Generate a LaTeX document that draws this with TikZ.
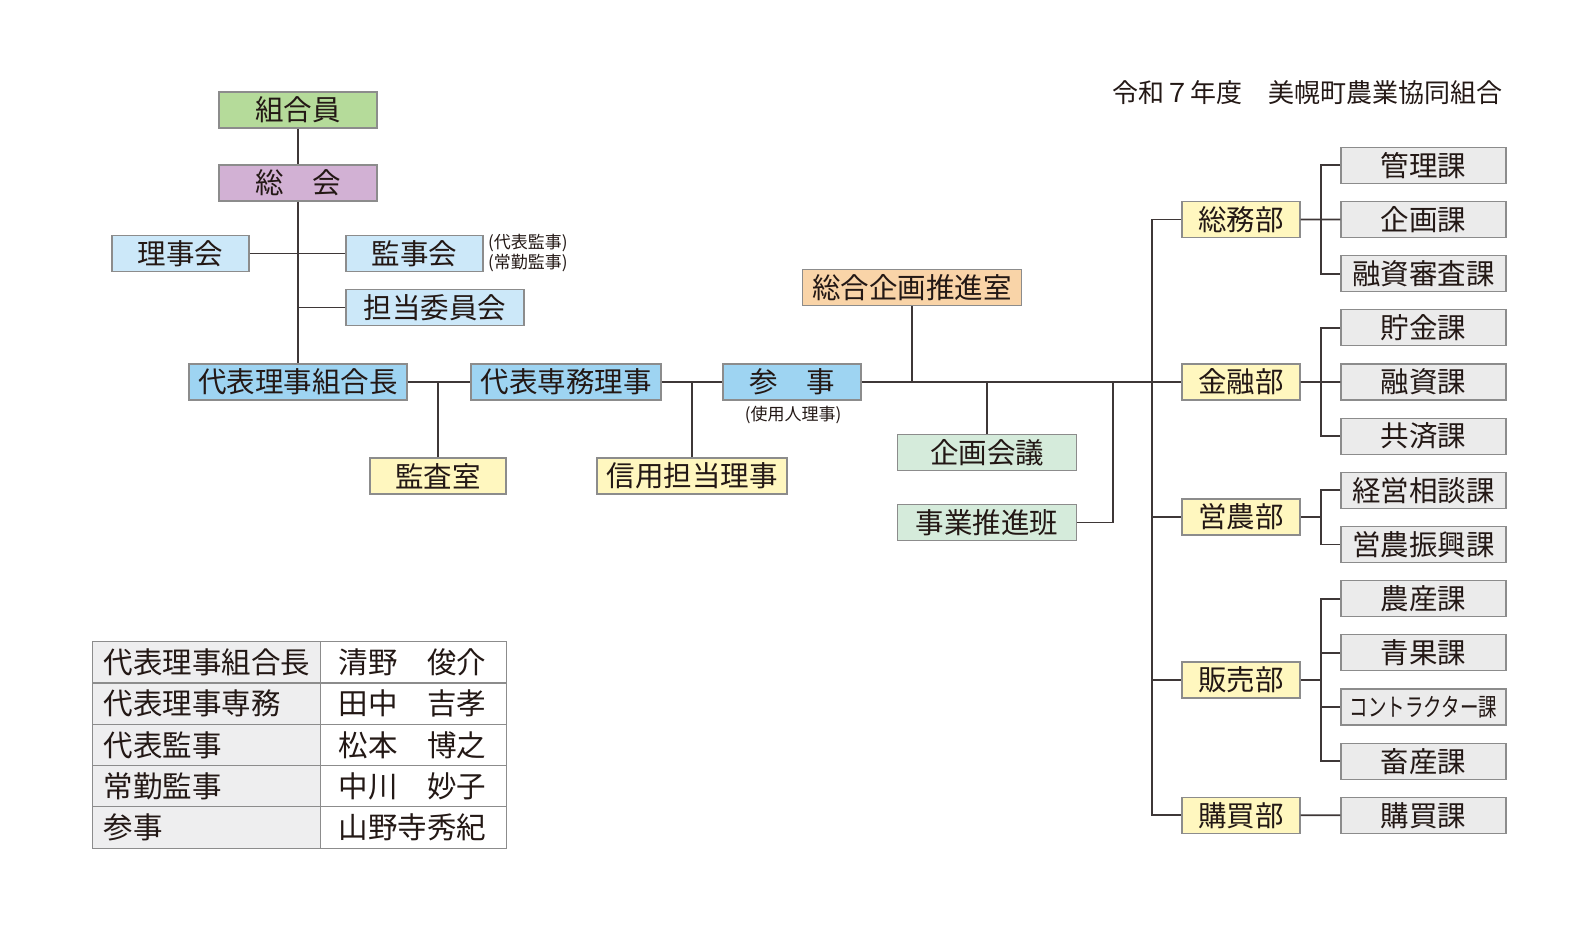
\documentclass[tikz,border=0pt]{standalone}
\usepackage{fontspec}
\setmainfont{Noto Sans CJK JP}
\usetikzlibrary{calc}

\definecolor{linecol}{RGB}{62,55,55}
\definecolor{edgecol}{RGB}{140,140,140}
\definecolor{txtcol}{RGB}{35,24,21}
\definecolor{memgreen}{RGB}{181,219,154}
\definecolor{genpurple}{RGB}{210,177,212}
\definecolor{execblue}{RGB}{158,212,242}
\definecolor{boardblue}{RGB}{204,232,249}
\definecolor{peach}{RGB}{249,212,168}
\definecolor{deptyellow}{RGB}{255,247,191}
\definecolor{mintgreen}{RGB}{213,235,219}
\definecolor{secgray}{RGB}{235,235,235}
\definecolor{tabgray}{RGB}{238,238,239}

\begin{document}
\begin{tikzpicture}[x=1pt, y=-1pt,
    box/.style={draw=edgecol, line width=1.2pt, text=txtcol, inner sep=0pt,
        minimum height=36pt, font=\fontsize{28.5}{28.5}\selectfont},
    deptbox/.style={box, fill=deptyellow, minimum width=118pt},
    secbox/.style={box, fill=secgray, minimum width=165pt},
    conn/.style={draw=linecol, line width=1.8pt},
    note/.style={text=txtcol, inner sep=0pt, font=\fontsize{17}{17}\selectfont},
    cellL/.style={draw=edgecol, line width=1.2pt, fill=tabgray, text=txtcol, anchor=north west,
        minimum height=41.3pt, text width=206pt, inner xsep=11pt, inner ysep=0pt, align=left,
        font=\fontsize{29.5}{29.5}\selectfont},
    cellR/.style={cellL, fill=white, text width=150pt, inner xsep=18pt},
    ]
        % Page size of the reference, in pixels
        \useasboundingbox (0,0) rectangle (1584,944);

        % Column of the bus lines
        \pgfmathsetmacro{\busx}{1152}
        \pgfmathsetmacro{\subx}{1321}
        \pgfmathsetmacro{\secpitch}{54.17}

        % Members, general meeting and boards
        \node[box, fill=memgreen, minimum width=158pt] (kumiaiin) at (298,110) {組合員};
        \node[box, fill=genpurple, minimum width=158pt] (soukai) at (298,183) {総　会};
        \node[box, fill=boardblue, minimum width=137pt] (rijikai) at (180.5,253.5) {理事会};
        \node[box, fill=boardblue, minimum width=137pt] (kanjikai) at (414.5,253.5) {監事会};
        \node[box, fill=boardblue, minimum width=178pt] (tantou) at (435,307.5) {担当委員会};
        \node[note, anchor=west] (note1) at (488,243) {(代表監事)};
        \node[note, anchor=west] (note2) at (488,263) {(常勤監事)};

        % Executives on the main line
        \node[box, fill=execblue, minimum width=218pt] (kumiaicho) at (298,382) {代表理事組合長};
        \node[box, fill=execblue, minimum width=190pt] (senmu) at (566,382) {代表専務理事};
        \node[box, fill=execblue, minimum width=138pt] (sanji) at (792,382) {参　事};
        \node[note] (note3) at (793,415) {(使用人理事)};
        \node[box, fill=deptyellow, minimum width=136pt] (kansa) at (438,476) {監査室};
        \node[box, fill=deptyellow, minimum width=190pt] (shinyou) at (692,476) {信用担当理事};

        % Planning units
        \node[box, fill=peach, minimum width=219pt] (kikakusuishin) at (912,287.5) {総合企画推進室};
        \node[box, fill=mintgreen, minimum width=179pt] (kikakukaigi) at (987,452.5) {企画会議};
        \node[box, fill=mintgreen, minimum width=179pt] (suishinhan) at (987,522.5) {事業推進班};

        % Departments
        \node[deptbox] (soumu) at (1241,219.5) {総務部};
        \node[deptbox] (kinyu) at (1241,382) {金融部};
        \node[deptbox] (einou) at (1241,517) {営農部};
        \node[deptbox] (hanbai) at (1241,680) {販売部};
        \node[deptbox] (koubai) at (1241,815.3) {購買部};

        % Sections, one per row
        \foreach \name/\label [count=\i from 0] in {kanri/管理課, kikaku/企画課, yushishinsa/融資審査課,
            chokin/貯金課, yushi/融資課, kyousai/共済課, keiei/経営相談課, shinkou/営農振興課,
            nousan/農産課, seika/青果課, contract/{\fontsize{25}{25}\selectfont\scalebox{0.74}[1]{コントラクター課}},
            chikusan/畜産課, kouka/購買課}{
            \node[secbox] (\name) at (1423.5,{165.3+\secpitch*\i}) {\label};
        }

        % Title
        \node[text=txtcol, inner sep=0pt, anchor=east, font=\fontsize{26}{26}\selectfont] (title)
            at (1503,93) {令和７年度　美幌町農業協同組合};

        % Officers table
        \foreach \role/\person [count=\i from 0] in {代表理事組合長/清野　俊介, 代表理事専務/田中　吉孝,
            代表監事/松本　博之, 常勤監事/中川　妙子, 参事/山野寺秀紀}{
            \node[cellL] (role\i) at (92,{641+41.3*\i}) {\role};
            \node[cellR] (person\i) at (320,{641+41.3*\i}) {\person};
        }

        % Connectors, left tree
        \begin{scope}[conn]
            \draw (kumiaiin) -- (soukai);
            \draw (soukai.south) -- (kumiaicho.north);
            \draw (rijikai.east) -- (kanjikai.west);
            \draw (tantou.west) -- (tantou.west -| soukai.south);
        \end{scope}

        % Connectors, main line
        \begin{scope}[conn]
            \coordinate (hanjct) at (1113,382);
            \draw (kumiaicho.east) -- (senmu.west);
            \draw (senmu.east) -- (sanji.west);
            \draw (sanji.east) -- (kinyu.west);
            \draw (kansa.north) -- (kansa.north |- kumiaicho.east);
            \draw (shinyou.north) -- (shinyou.north |- senmu.east);
            \draw (kikakusuishin.south) -- (kikakusuishin.south |- sanji.east);
            \draw (kikakukaigi.north) -- (kikakukaigi.north |- sanji.east);
            \draw (suishinhan.east) -| (hanjct);
        \end{scope}

        % Connectors, department bus
        \begin{scope}[conn]
            \coordinate (bus) at (\busx,0);
            \draw (soumu.west) -- (soumu.west -| bus) -- (koubai.west -| bus) -- (koubai.west);
            \draw (einou.west -| bus) -- (einou.west);
            \draw (hanbai.west -| bus) -- (hanbai.west);
        \end{scope}

        % Connectors, section buses
        \begin{scope}[conn]
            \coordinate (sub) at (\subx,0);
            \draw (kanri.west) -- (kanri.west -| sub) -- (yushishinsa.west -| sub) -- (yushishinsa.west);
            \draw (soumu.east) -- (kikaku.west);

            \draw (chokin.west) -- (chokin.west -| sub) -- (kyousai.west -| sub) -- (kyousai.west);
            \draw (kinyu.east) -- (yushi.west);

            \draw (keiei.west) -- (keiei.west -| sub) -- (shinkou.west -| sub) -- (shinkou.west);
            \draw (einou.east) -- (einou.east -| sub);

            \draw (nousan.west) -- (nousan.west -| sub) -- (chikusan.west -| sub) -- (chikusan.west);
            \draw (seika.west -| sub) -- (seika.west);
            \draw (contract.west -| sub) -- (contract.west);
            \draw (hanbai.east) -- (hanbai.east -| sub);

            \draw (koubai.east) -- (kouka.west);
        \end{scope}

\end{tikzpicture}
\end{document}
